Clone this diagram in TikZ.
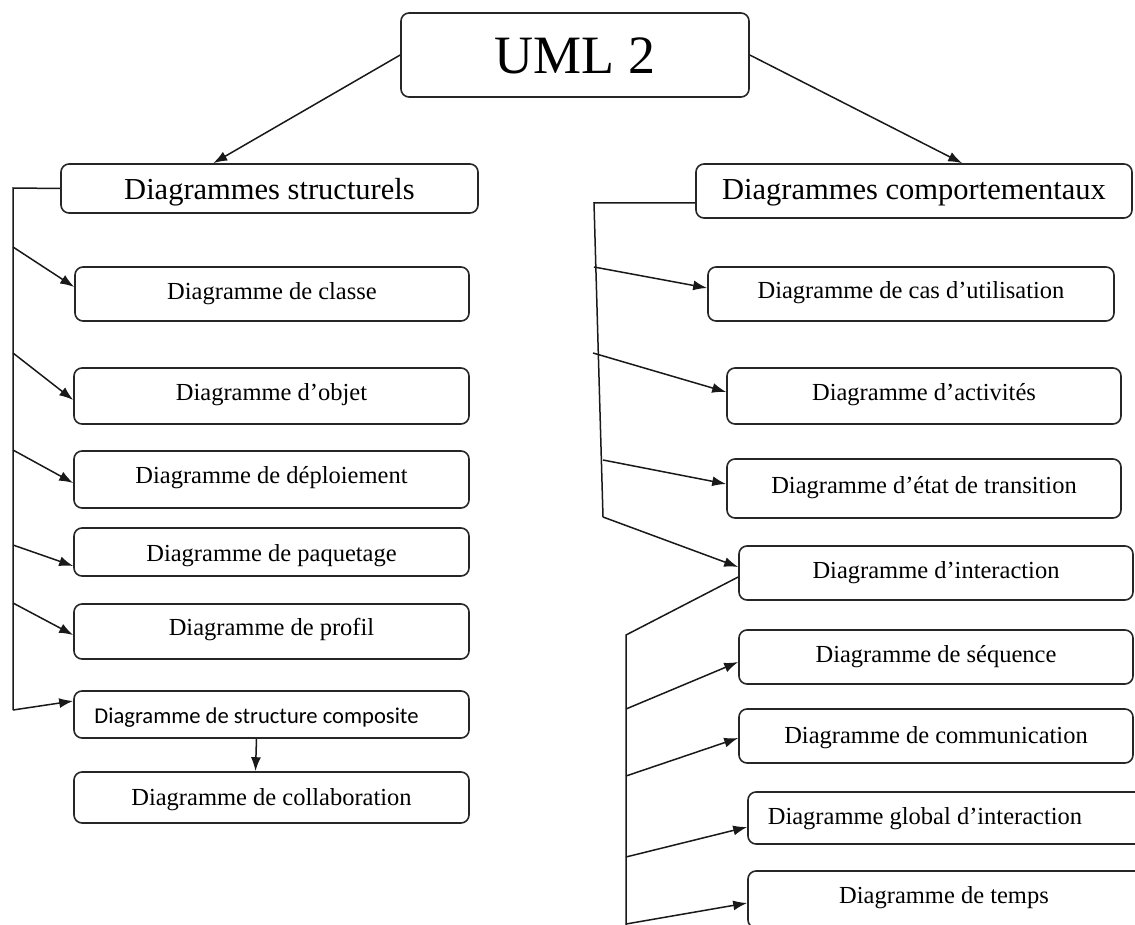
\documentclass[tikz,border=0pt]{standalone}
\usepackage{fontspec}
\setmainfont{Liberation Serif}
\newfontfamily\sansf{Carlito}
\usetikzlibrary{arrows.meta}

\tikzset{
  box/.style={draw=black!85, line width=1.6pt, rounded corners=8pt, inner sep=0pt},
  % baseline sits (#1 - 6pt)/2 below the box centre
  base/.style={text depth=6pt, text height=#1},
  child/.style={box, font=\fontsize{24.5}{29}\selectfont},
  head/.style={box, font=\fontsize{30.5}{36}\selectfont},
  link/.style={line width=1.5pt, black!90},
  arr/.style={link, -{Latex[length=14pt,width=10pt]}},
}

\begin{document}
\begin{tikzpicture}[x=1pt, y=-1pt]
\useasboundingbox (0,0) rectangle (1135,925);

% root
\node[box, font=\fontsize{54}{60}\selectfont, minimum width=348pt, minimum height=84pt,
      base=44pt] (uml) at (575,55) {UML 2};

% structural branch
\node[head, base=29pt, minimum width=417pt, minimum height=49pt] (struct) at (269.5,188.5) {Diagrammes structurels};
\node[child, base=18pt, minimum width=394pt, minimum height=54pt] (classe) at (272,294) {Diagramme de classe};
\node[child, base=14pt, minimum width=395pt, minimum height=56pt] (objet) at (271.5,396) {Diagramme d’objet};
\node[child, base=13pt, minimum width=395pt, minimum height=57pt] (deploi) at (271.5,479.5) {Diagramme de déploiement};
\node[child, base=24pt, minimum width=395pt, minimum height=48pt] (paquet) at (271.5,552) {Diagramme de paquetage};
\node[child, base=13pt, minimum width=395pt, minimum height=55pt] (profil) at (271.5,631.5) {Diagramme de profil};
\node[box, font=\sansf\fontsize{22.6}{27}\selectfont, base=23pt, minimum width=395pt, minimum height=47pt]
      (compos) at (271.5,714.5) {Diagramme de structure composite\hspace*{30pt}};
\node[child, base=21pt, minimum width=395pt, minimum height=51pt] (collab) at (271.5,797.5) {Diagramme de collaboration};

% behavioural branch
\node[head, base=24pt, minimum width=436pt, minimum height=54pt] (comport) at (914,191) {Diagrammes comportementaux};
\node[child, base=16pt, minimum width=406pt, minimum height=54pt] (cas) at (911,294) {Diagramme de cas d’utilisation};
\node[child, base=14pt, minimum width=394pt, minimum height=56pt] (activ) at (924,396) {Diagramme d’activités};
\node[child, base=15pt, minimum width=394pt, minimum height=59pt] (etat) at (924,488.5) {Diagramme d’état de transition};
\node[child, base=16pt, minimum width=394pt, minimum height=54pt] (inter) at (936,573) {Diagramme d’interaction};
\node[child, base=16pt, minimum width=394pt, minimum height=54pt] (seq) at (936,657) {Diagramme de séquence};
\node[child, base=20pt, minimum width=394pt, minimum height=54pt] (comm) at (936,736) {Diagramme de communication};
\node[child, base=18pt, minimum width=402pt, minimum height=52pt] (global) at (949,818) {Diagramme global d’interaction\hspace*{48pt}};
\node[child, base=13pt, minimum width=402pt, minimum height=57pt] (temps) at (949,899.5) {Diagramme de temps\hspace*{10pt}};

% root to the two families
\draw[arr] (uml.west) -- ([xshift=153pt]struct.north west);
\draw[arr] (uml.east) -- ([xshift=267pt]comport.north west);

% left spine
\coordinate (ltop) at (13,188);
\coordinate (lbot) at (13,710);
\coordinate (l1) at (13,247);
\coordinate (l2) at (13,353);
\coordinate (l3) at (13,450);
\coordinate (l4) at (13,545);
\coordinate (l5) at (13,603);
\draw[link] (struct.west) -- (ltop) -- (lbot);
\draw[arr] (l1) -- ([yshift=7pt]classe.west);
\draw[arr] (l2) -- ([yshift=-4pt]objet.west);
\draw[arr] (l3) -- ([yshift=-3.5pt]deploi.west);
\draw[arr] (l4) -- ([yshift=-14pt]paquet.west);
\draw[arr] (l5) -- ([yshift=-3.5pt]profil.west);
\draw[arr] (lbot) -- ([yshift=13.5pt]compos.west);
\draw[arr] ([xshift=-15pt]compos.south) -- ([xshift=-16pt]collab.north);

% right spine
\coordinate (rtop) at (594,203);
\coordinate (rbot) at (603,517);
\coordinate (r1) at (594,267);
\coordinate (r2) at (593,353);
\coordinate (r3) at (603,460);
\draw[link] ([yshift=-12pt]comport.west) -- (rtop) -- (rbot);
\draw[arr] (rbot) -- ([yshift=6pt]inter.west);
\draw[arr] (r1) -- ([yshift=6pt]cas.west);
\draw[arr] (r2) -- ([yshift=4pt]activ.west);
\draw[arr] (r3) -- ([yshift=4.5pt]etat.west);

% interaction sub-spine
\coordinate (itop) at (626,635);
\coordinate (ibot) at (626,935);
\coordinate (i1) at (626,709);
\coordinate (i2) at (626,776);
\coordinate (i3) at (626,857);
\coordinate (i4) at (626,924);
\draw[link] ([yshift=-4pt]inter.west) -- (itop) -- (ibot);
\draw[arr] (i1) -- ([yshift=-5pt]seq.west);
\draw[arr] (i2) -- ([yshift=-2pt]comm.west);
\draw[arr] (i3) -- ([yshift=-9pt]global.west);
\draw[arr] (i4) -- ([yshift=-3.5pt]temps.west);
\end{tikzpicture}
\end{document}
